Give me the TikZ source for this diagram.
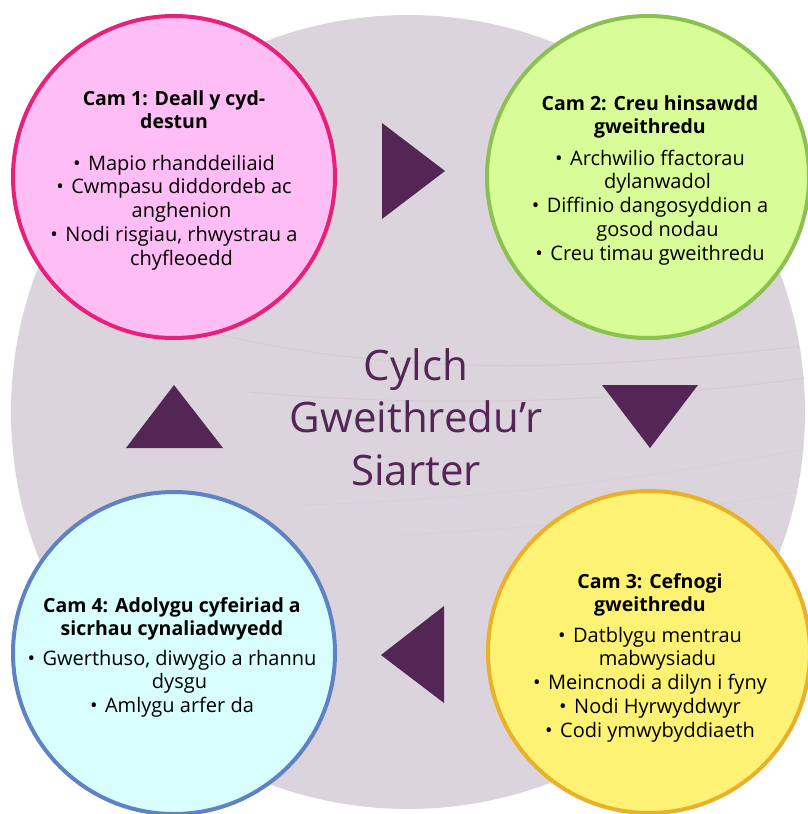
\documentclass[tikz,border=0pt]{standalone}
\usepackage{fontspec}
\setmainfont{Open Sans}
\definecolor{bgc}{HTML}{DCD4DD}
\definecolor{pinkf}{HTML}{FFBDF5}
\definecolor{pinkl}{HTML}{E8207A}
\definecolor{greenf}{HTML}{D7FC98}
\definecolor{greenl}{HTML}{8CC152}
\definecolor{yellowf}{HTML}{FDF274}
\definecolor{yellowl}{HTML}{E9B12A}
\definecolor{bluef}{HTML}{D9FEFE}
\definecolor{bluel}{HTML}{5E82C4}
\definecolor{plum}{HTML}{532656}
\definecolor{swpink}{HTML}{D9C9D6}
\definecolor{swblue}{HTML}{D2D2DF}
\newcommand\bl{\makebox[0.75em][l]{•}}
\newcommand\cn{\hspace*{0.75em}}
\tikzset{
  stage/.style={circle, draw, line width=4pt, minimum size=322pt, inner sep=0pt},
  head/.style={anchor=base, inner sep=0pt, font=\fontsize{19.5}{23.5}\selectfont\bfseries},
  items/.style={anchor=base, inner sep=0pt, font=\fontsize{20}{23.8}\selectfont},
  arrowtri/.style={fill=plum},
  swoosh/.style={line width=1pt}
}
\begin{document}
\begin{tikzpicture}[x=1pt,y=-1pt]
\useasboundingbox (0,0) rectangle (808,814);
% background circle
\fill[bgc] (408,412) circle (397);
\begin{scope}
\clip (408,412) circle (397);
\draw[swoosh, swpink] (200,330) .. controls (400,380) and (600,370) .. (820,344);
\draw[swoosh, swpink] (250,392) .. controls (450,410) and (650,400) .. (820,376);
\draw[swoosh, swblue] (300,505) .. controls (500,500) and (700,470) .. (820,446);
\draw[swoosh, swblue] (400,535) .. controls (600,525) and (720,505) .. (820,488);
\end{scope}
% stage circles
\node[stage, draw=pinkl, fill=pinkf] (c1) at (174,177) {};
\node[stage, draw=greenl, fill=greenf] (c2) at (648,177) {};
\node[stage, draw=yellowl, fill=yellowf] (c3) at (649,652) {};
\node[stage, draw=bluel, fill=bluef] (c4) at (174,653) {};
% triangles
\fill[arrowtri] (382,123) -- (382,219) -- (445,171) -- cycle;
\fill[arrowtri] (602,385) -- (698,385) -- (650,448) -- cycle;
\fill[arrowtri] (444,606) -- (444,703) -- (381,655) -- cycle;
\fill[arrowtri] (126,448) -- (223,448) -- (174,385) -- cycle;
% title
\node[anchor=base, inner sep=0pt, text=plum] (title) at (416,380)
  {\parbox[t]{320pt}{\centering\fontsize{42}{52.5}\selectfont Cylch\\Gweithredu’r\\Siarter}};
% stage 1
\node[head] (h1) at (174,105) {\parbox[t]{320pt}{\centering Cam 1: Deall y cyd-\\destun}};
\node[items] (b1) at (174,170) {\parbox[t]{320pt}{\centering \bl Mapio rhanddeiliaid\\\bl Cwmpasu diddordeb ac\\\cn anghenion\\\bl Nodi risgiau, rhwystrau a\\\cn chyfleoedd}};
% stage 2
\node[head] (h2) at (650,110) {\parbox[t]{320pt}{\centering Cam 2: Creu hinsawdd\\gweithredu}};
\node[items] (b2) at (650,165) {\parbox[t]{320pt}{\centering \bl Archwilio ffactorau\\\cn dylanwadol\\\bl Diffinio dangosyddion a\\\cn gosod nodau\\\bl Creu timau gweithredu}};
% stage 3
\node[head] (h3) at (650,588) {\parbox[t]{320pt}{\centering Cam 3: Cefnogi\\gweithredu}};
\node[items] (b3) at (650,642) {\parbox[t]{320pt}{\centering \bl Datblygu mentrau\\\cn mabwysiadu\\\bl Meincnodi a dilyn i fyny\\\bl Nodi Hyrwyddwyr\\\bl Codi ymwybyddiaeth}};
% stage 4
\node[head] (h4) at (172,612) {\parbox[t]{320pt}{\centering Cam 4: Adolygu cyfeiriad a\\sicrhau cynaliadwyedd}};
\node[items] (b4) at (172,665) {\parbox[t]{320pt}{\centering \bl Gwerthuso, diwygio a rhannu\\\cn dysgu\\\bl Amlygu arfer da}};
\end{tikzpicture}
\end{document}
